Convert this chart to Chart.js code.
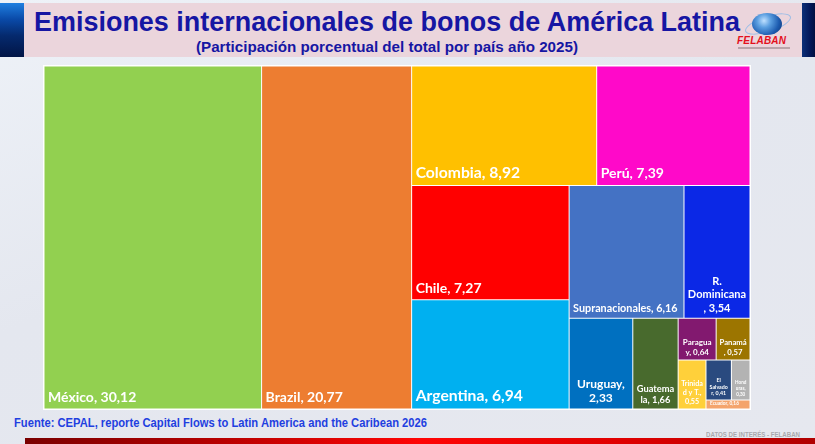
<!DOCTYPE html>
<html>
<head>
<meta charset="utf-8">
<script src="https://cdn.jsdelivr.net/npm/chart.js@4.4.1/dist/chart.umd.min.js"></script>
<style>
html,body{margin:0;padding:0;width:815px;height:444px;overflow:hidden;}
body{position:relative;background:linear-gradient(160deg,#eef2f8 0%,#e4e7ef 45%,#e6e8ef 100%);font-family:'Liberation Sans',Arial,sans-serif;}
#lbar{position:absolute;left:0;top:3px;width:24px;height:54px;background:linear-gradient(180deg,#1f7fe0 0%,#0a4aa8 30%,#052a6e 60%,#021546 100%);}
#rbar{position:absolute;left:802px;top:3px;width:13px;height:54px;background:linear-gradient(90deg,#0b2f78 0%,#03185a 60%,#021040 100%);}
#hdr{position:absolute;left:24px;top:3px;width:778px;height:54px;background:#ebd5dc;}
.fit{position:absolute;white-space:nowrap;transform-origin:0 0;}
#title{top:9px;font-size:27px;line-height:27px;font-weight:bold;color:#1616a3;}
#subtitle{top:39px;font-size:15px;line-height:15px;font-weight:bold;color:#1616a3;}
#source{top:417px;font-size:12px;line-height:12px;font-weight:bold;color:#1f3fe0;}
#datos{top:431px;font-size:8px;line-height:8px;font-weight:bold;color:#a9a9ad;}
#redbar{position:absolute;left:25px;top:438px;width:790px;height:6px;background:linear-gradient(90deg,#7a0000 0%,#b80000 25%,#ff0505 50%,#e00000 75%,#b00000 100%);}
#globe{position:absolute;left:752px;top:13px;width:30px;height:22px;border-radius:50%;background:radial-gradient(circle at 40% 35%,#bfe0ff 0%,#5a9ee0 30%,#1d5cb0 65%,#0a2e6a 100%);}
#orbit{position:absolute;left:744px;top:16px;width:46px;height:14px;border-radius:50%;border:1px solid #9cbde6;transform:rotate(-18deg);}
#felaban{position:absolute;left:737px;top:36px;font-size:10px;line-height:10px;font-weight:bold;font-style:italic;color:#e3101c;letter-spacing:0.2px;}
#felsub{position:absolute;left:738px;top:47px;width:52px;height:2px;background:#b9a3aa;}
#wrap{position:absolute;left:43px;top:65px;width:708px;height:345px;}
</style>
</head>
<body>
<div id="lbar"></div>
<div id="rbar"></div>
<div id="hdr"></div>
<div id="title" class="fit" data-cx="387" data-w="706">Emisiones internacionales de bonos de América Latina</div>
<div id="subtitle" class="fit" data-cx="387" data-w="382">(Participación porcentual del total por país año 2025)</div>
<div id="orbit"></div>
<div id="globe"></div>
<div id="felaban">FELABAN</div>
<div id="felsub"></div>
<div id="wrap"><canvas id="c"></canvas></div>
<div id="source" class="fit" data-x="14" data-w="413">Fuente: CEPAL, reporte Capital Flows to Latin America and the Caribean 2026</div>
<div id="datos" class="fit" data-x="706" data-w="94">DATOS DE INTERÉS - FELABAN</div>
<div id="redbar"></div>
<script>
// ---- data ----
const countries = ["México","Brazil","Colombia","Perú","Chile","Argentina","Supranacionales","R. Dominicana","Uruguay","Guatemala","Paraguay","Panamá","Trinidad y T.","El Salvador","Honduras","Ecuador"];
const shares = [30.12,20.77,8.92,7.39,7.27,6.94,6.16,3.54,2.33,1.66,0.64,0.57,0.55,0.41,0.30,0.16];
// number of countries placed in each successive strip of the treemap
const stripCounts = [1,1,2,2,2,1,1,2,1,2,1];

// ---- styles ----
const cellColors = ["#92d050","#ed7d31","#ffc000","#ff09c9","#ff0000","#00b0f0","#4472c4","#0b28e6","#0070c0","#486a2d","#82196f","#9c7500","#ffd03a","#2a4a7f","#b3b3b3","#f4a46c"];
const labelSizes = [14,14,15.7,14,14,15.7,10.8,11,12,9.3,8,7.7,7.2,5.3,4.6,4.8];

// fit header/footer text widths
document.querySelectorAll('.fit').forEach(el => {
  const w = el.getBoundingClientRect().width;
  const target = +el.dataset.w;
  const s = target / w;
  el.style.transform = 'scaleX(' + s + ')';
  if (el.dataset.cx) el.style.left = (+el.dataset.cx - target / 2) + 'px';
  else el.style.left = el.dataset.x + 'px';
});

class TreemapController extends Chart.DatasetController {
  update(mode) {
    const meta = this._cachedMeta;
    this.updateElements(meta.data, 0, meta.data.length, mode);
  }
  computeCells() {
    const meta = this._cachedMeta;
    const xs = meta.xScale, ys = meta.yScale;
    const kx = Math.abs(xs.getPixelForValue(xs.max) - xs.getPixelForValue(xs.min)) / (xs.max - xs.min);
    const ky = Math.abs(ys.getPixelForValue(ys.max) - ys.getPixelForValue(ys.min)) / (ys.max - ys.min);
    const ds = this.getDataset();
    const values = ds.data;
    const strips = ds.strips;
    let rx = xs.min, ry = ys.min, rw = xs.max - xs.min, rh = ys.max - ys.min;
    const total = values.reduce((a, b) => a + b, 0);
    const unit = rw * rh / total;
    const cells = [];
    let idx = 0;
    for (const n of strips) {
      const items = values.slice(idx, idx + n);
      const s = items.reduce((a, b) => a + b, 0);
      const area = s * unit;
      if (rw * kx >= rh * ky) {
        const w = area / rh; let y = ry;
        items.forEach(v => { const h = v * unit / w; cells.push({x0: rx, x1: rx + w, y0: y, y1: y + h}); y += h; });
        rx += w; rw -= w;
      } else {
        const h = area / rw; let x = rx;
        items.forEach(v => { const w = v * unit / h; cells.push({x0: x, x1: x + w, y0: ry, y1: ry + h}); x += w; });
        ry += h; rh -= h;
      }
      idx += n;
    }
    return cells;
  }
  updateElements(rects, start, count, mode) {
    const meta = this._cachedMeta;
    const xs = meta.xScale, ys = meta.yScale;
    const cells = this.computeCells();
    const inset = 0.5;
    for (let i = start; i < start + count; i++) {
      const c = cells[i];
      const a = xs.getPixelForValue(c.x0), b = xs.getPixelForValue(c.x1);
      const t = ys.getPixelForValue(c.y0), u = ys.getPixelForValue(c.y1);
      const L = Math.min(a, b) + inset, R = Math.max(a, b) - inset;
      const T = Math.min(t, u) + inset, B = Math.max(t, u) - inset;
      this.updateElement(rects[i], i, {
        x: (L + R) / 2, y: T, base: B, width: R - L, height: B - T,
        horizontal: false, inflateAmount: 0, enableBorderRadius: false,
        borderSkipped: {top: false, bottom: false, left: false, right: false},
        options: this.resolveDataElementOptions(i, mode)
      }, mode);
    }
  }
}
TreemapController.id = 'treemapLite';
TreemapController.defaults = {datasetElementType: false, dataElementType: 'bar'};
TreemapController.overrides = {};
Chart.register(TreemapController);

const whiteBack = {
  id: 'whiteBack',
  beforeDatasetsDraw(chart) {
    const a = chart.chartArea, ctx = chart.ctx;
    ctx.save();
    ctx.fillStyle = '#ffffff';
    ctx.fillRect(a.left - 1, a.top - 1, a.right - a.left + 2, a.bottom - a.top + 2);
    ctx.restore();
  }
};

function wrapText(ctx, text, maxW) {
  const words = text.split(' ');
  const lines = [];
  let line = '';
  for (const w of words) {
    const cand = line ? line + ' ' + w : w;
    if (ctx.measureText(cand).width <= maxW) { line = cand; continue; }
    if (line && ctx.measureText(w).width <= maxW) { lines.push(line); line = w; continue; }
    if (line) { lines.push(line); line = ''; }
    let rest = w;
    while (rest.length > 1 && ctx.measureText(rest).width > maxW) {
      let k = rest.length - 1;
      while (k > 1 && ctx.measureText(rest.slice(0, k)).width > maxW) k--;
      lines.push(rest.slice(0, k));
      rest = rest.slice(k);
    }
    line = rest;
  }
  if (line) lines.push(line);
  return lines;
}

const cellLabels = {
  id: 'cellLabels',
  afterDatasetsDraw(chart) {
    const ctx = chart.ctx;
    const meta = chart.getDatasetMeta(0);
    const labels = chart.data.labels;
    const vals = chart.data.datasets[0].data;
    meta.data.forEach((el, i) => {
      const fs = labelSizes[i];
      const text = labels[i] + ', ' + vals[i].toFixed(2).replace('.', ',');
      const left = el.x - el.width / 2, bottom = el.base;
      ctx.save();
      ctx.font = 'bold ' + fs + 'px Lato';
      ctx.fillStyle = '#ffffff';
      ctx.textBaseline = 'alphabetic';
      const lines = wrapText(ctx, text, el.width - 5);
      const lh = fs * 1.2 + 0.5;
      const baseY = bottom - (2.5 + 0.3 * fs);
      if (lines.length === 1) {
        ctx.textAlign = 'left';
        ctx.fillText(lines[0], left + 3.5, baseY);
      } else {
        ctx.textAlign = 'center';
        lines.forEach((ln, j) => {
          ctx.fillText(ln, el.x, baseY - (lines.length - 1 - j) * lh);
        });
      }
      ctx.restore();
    });
  }
};

new Chart(document.getElementById('c'), {
  type: 'treemapLite',
  data: {
    labels: countries,
    datasets: [{
      data: shares,
      strips: stripCounts,
      backgroundColor: cellColors,
      borderWidth: 0
    }]
  },
  options: {
    responsive: true,
    maintainAspectRatio: false,
    animation: false,
    events: [],
    layout: {padding: 1},
    scales: {
      x: {type: 'linear', min: 0, max: 100, display: false},
      y: {type: 'linear', min: 0, max: 100, reverse: true, display: false}
    },
    plugins: {legend: {display: false}, tooltip: {enabled: false}}
  },
  plugins: [whiteBack, cellLabels]
});
</script>
</body>
</html>
